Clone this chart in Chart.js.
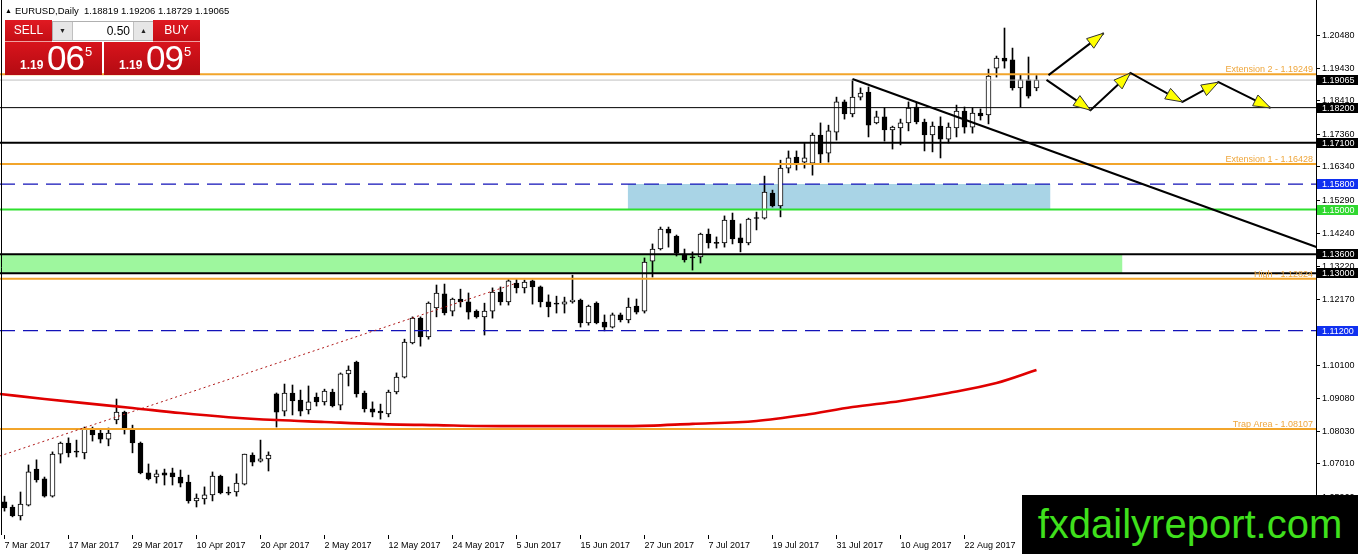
<!DOCTYPE html>
<html>
<head>
<meta charset="utf-8">
<script src="https://cdn.jsdelivr.net/npm/chart.js@4.4.1/dist/chart.umd.min.js"></script>
<style>
  html, body { margin: 0; padding: 0; background: #fff; }
  #wrap { position: relative; width: 1358px; height: 554px; overflow: hidden; font-family: "Liberation Sans", Arial, sans-serif; }
  #chart { position: absolute; left: 0; top: 0; }
  #title { position: absolute; left: 5px; top: 5px; font-size: 9.5px; color: #000; white-space: pre; }
  #title .tri { font-size: 7px; position: relative; top: -1px; margin-right: 3px; }
  .btn { position: absolute; top: 20px; width: 47px; height: 21px; background: linear-gradient(#e01a22, #c40e15); color: #fff; font-size: 12px; text-align: center; line-height: 20px; border-bottom: 1px solid #f0a0a0; }
  #sell { left: 5px; }
  #buy { left: 153px; }
  #lot { position: absolute; left: 52px; top: 21px; width: 100px; height: 18px; background: #fff; border: 1px solid #b0b0b0; }
  #lot .dn, #lot .up { position: absolute; top: 0; width: 19px; height: 18px; background: #e6e6e6; font-size: 7px; text-align: center; line-height: 18px; color: #222; }
  #lot .dn { left: 0; border-right: 1px solid #c0c0c0; }
  #lot .up { right: 0; border-left: 1px solid #c0c0c0; }
  #lot .val { position: absolute; left: 20px; width: 57px; text-align: right; font-size: 12px; line-height: 18px; color: #000; }
  .price { position: absolute; top: 42px; height: 33px; background: linear-gradient(#d8141c, #b40b12); color: #fff; }
  #sellPrice { left: 5px; width: 97px; }
  #buyPrice { left: 104px; width: 96px; }
  .price .small { position: absolute; left: 15px; top: 16px; font-size: 12px; font-weight: bold; }
  .price .big { position: absolute; left: 42px; top: -1px; font-size: 35px; line-height: 33px; letter-spacing: -1px; }
  .price .sup { position: absolute; left: 80px; top: 2px; font-size: 13px; }
  #mark { position: absolute; left: 1022px; top: 495px; width: 336px; height: 59px; background: #000; color: #3fe01c; font-size: 40px; line-height: 59px; text-align: center; }
</style>
</head>
<body>
<div id="wrap">
  <canvas id="chart" width="1358" height="554"></canvas>
  <div id="title"><span class="tri">&#9650;</span>EURUSD,Daily  1.18819 1.19206 1.18729 1.19065</div>
  <div class="btn" id="sell">SELL</div>
  <div id="lot"><div class="dn">&#9660;</div><div class="val">0.50</div><div class="up">&#9650;</div></div>
  <div class="btn" id="buy">BUY</div>
  <div class="price" id="sellPrice"><span class="small">1.19</span><span class="big">06</span><span class="sup">5</span></div>
  <div class="price" id="buyPrice"><span class="small">1.19</span><span class="big">09</span><span class="sup">5</span></div>
  <div id="mark">fxdailyreport.com</div>
</div>
<script>
// daily candles, 7 Mar 2017 .. 4 Sep 2017 (one per trading day)
var opens = [
  1.0582, 1.0566, 1.0538, 1.0572, 1.0685, 1.0654, 1.0600, 1.0732, 1.0767, 1.0739,
  1.0736, 1.0811, 1.0798, 1.0779, 1.0839, 1.0864, 1.0811, 1.0767, 1.0673, 1.0660,
  1.0673, 1.0673, 1.0660, 1.0644, 1.0585, 1.0591, 1.0604, 1.0663, 1.0610, 1.0613,
  1.0638, 1.0729, 1.0710, 1.0717, 1.0921, 1.0867, 1.0924, 1.0902, 1.0871, 1.0911,
  1.0896, 1.0927, 1.0886, 1.0984, 1.1021, 1.0924, 1.0874, 1.0867, 1.0858, 1.0927,
  1.0974, 1.1081, 1.1159, 1.1100, 1.1191, 1.1235, 1.1181, 1.1219, 1.1210, 1.1181,
  1.1163, 1.1181, 1.1241, 1.1210, 1.1269, 1.1254, 1.1276, 1.1257, 1.1210, 1.1206,
  1.1203, 1.1210, 1.1216, 1.1144, 1.1206, 1.1147, 1.1131, 1.1169, 1.1153, 1.1197,
  1.1181, 1.1338, 1.1376, 1.1439, 1.1417, 1.1360, 1.1351, 1.1351, 1.1423, 1.1395,
  1.1395, 1.1467, 1.1411, 1.1395, 1.1473, 1.1473, 1.1552, 1.1511, 1.1630, 1.1665,
  1.1649, 1.1646, 1.1734, 1.1677, 1.1743, 1.1838, 1.1800, 1.1853, 1.1869, 1.1772,
  1.1791, 1.1750, 1.1756, 1.1772, 1.1822, 1.1775, 1.1734, 1.1762, 1.1721, 1.1756,
  1.1809, 1.1759, 1.1803, 1.1797, 1.1944, 1.1976, 1.1970, 1.1882, 1.1907, 1.18819
];
var highs = [
  1.0600, 1.0572, 1.0613, 1.0698, 1.0714, 1.0660, 1.0739, 1.0770, 1.0783, 1.0776,
  1.0817, 1.0817, 1.0808, 1.0814, 1.0905, 1.0867, 1.0823, 1.0770, 1.0701, 1.0682,
  1.0685, 1.0688, 1.0682, 1.0666, 1.0607, 1.0629, 1.0676, 1.0666, 1.0629, 1.0670,
  1.0732, 1.0736, 1.0776, 1.0739, 1.0924, 1.0952, 1.0949, 1.0933, 1.0946, 1.0924,
  1.0936, 1.0936, 1.0987, 1.1009, 1.1024, 1.0930, 1.0896, 1.0889, 1.0933, 1.0987,
  1.1093, 1.1163, 1.1163, 1.1210, 1.1263, 1.1266, 1.1222, 1.1250, 1.1238, 1.1185,
  1.1206, 1.1254, 1.1257, 1.1282, 1.1282, 1.1279, 1.1279, 1.1260, 1.1232, 1.1228,
  1.1225, 1.1294, 1.1219, 1.1200, 1.1210, 1.1169, 1.1175, 1.1175, 1.1222, 1.1219,
  1.1348, 1.1392, 1.1445, 1.1445, 1.1420, 1.1376, 1.1367, 1.1426, 1.1439, 1.1414,
  1.1480, 1.1489, 1.1455, 1.1473, 1.1492, 1.1605, 1.1561, 1.1655, 1.1684, 1.1684,
  1.1709, 1.1740, 1.1772, 1.1765, 1.1853, 1.1844, 1.1907, 1.1882, 1.1885, 1.1809,
  1.1819, 1.1762, 1.1784, 1.1838, 1.1835, 1.1784, 1.1775, 1.1791, 1.1772, 1.1828,
  1.1822, 1.1819, 1.1816, 1.1941, 1.1982, 1.2070, 1.2007, 1.1922, 1.1979, 1.19206
];
var lows = [
  1.0553, 1.0535, 1.0525, 1.0569, 1.0644, 1.0597, 1.0597, 1.0704, 1.0723, 1.0723,
  1.0717, 1.0773, 1.0767, 1.0758, 1.0827, 1.0795, 1.0736, 1.0670, 1.0651, 1.0641,
  1.0635, 1.0635, 1.0629, 1.0578, 1.0566, 1.0575, 1.0585, 1.0607, 1.0604, 1.0600,
  1.0635, 1.0695, 1.0707, 1.0679, 1.0817, 1.0852, 1.0855, 1.0852, 1.0858, 1.0883,
  1.0886, 1.0880, 1.0871, 1.0946, 1.0911, 1.0864, 1.0849, 1.0842, 1.0849, 1.0921,
  1.0971, 1.1078, 1.1071, 1.1093, 1.1163, 1.1169, 1.1166, 1.1194, 1.1156, 1.1159,
  1.1106, 1.1159, 1.1200, 1.1200, 1.1238, 1.1238, 1.1203, 1.1194, 1.1163, 1.1175,
  1.1175, 1.1206, 1.1131, 1.1137, 1.1141, 1.1119, 1.1128, 1.1147, 1.1144, 1.1172,
  1.1175, 1.1288, 1.1373, 1.1382, 1.1354, 1.1335, 1.1310, 1.1332, 1.1379, 1.1379,
  1.1382, 1.1392, 1.1367, 1.1389, 1.1436, 1.1470, 1.1508, 1.1477, 1.1615, 1.1624,
  1.1630, 1.1608, 1.1646, 1.1649, 1.1718, 1.1784, 1.1791, 1.1844, 1.1728, 1.1769,
  1.1715, 1.1690, 1.1703, 1.1747, 1.1769, 1.1684, 1.1681, 1.1662, 1.1709, 1.1728,
  1.1740, 1.1740, 1.1781, 1.1769, 1.1916, 1.1944, 1.1875, 1.1822, 1.1850, 1.18729
];
var closes = [
  1.0563, 1.0538, 1.0575, 1.0676, 1.0651, 1.0600, 1.0732, 1.0767, 1.0736, 1.0738,
  1.0814, 1.0792, 1.0779, 1.0798, 1.0864, 1.0814, 1.0767, 1.0673, 1.0654, 1.0670,
  1.0666, 1.0660, 1.0641, 1.0585, 1.0594, 1.0604, 1.0663, 1.0610, 1.0609, 1.0641,
  1.0732, 1.0707, 1.0717, 1.0729, 1.0864, 1.0924, 1.0899, 1.0867, 1.0896, 1.0896,
  1.0930, 1.0883, 1.0984, 1.0996, 1.0921, 1.0874, 1.0864, 1.0861, 1.0927, 1.0974,
  1.1084, 1.1159, 1.1100, 1.1206, 1.1238, 1.1175, 1.1219, 1.1210, 1.1178, 1.1163,
  1.1181, 1.1241, 1.1210, 1.1276, 1.1254, 1.1272, 1.1257, 1.1210, 1.1194, 1.1203,
  1.1210, 1.1216, 1.1144, 1.1197, 1.1144, 1.1131, 1.1169, 1.1153, 1.1194, 1.1178,
  1.1335, 1.1376, 1.1439, 1.1426, 1.1363, 1.1342, 1.1348, 1.1423, 1.1395, 1.1394,
  1.1467, 1.1408, 1.1395, 1.1470, 1.1472, 1.1555, 1.1511, 1.1630, 1.1662, 1.1646,
  1.1662, 1.1734, 1.1674, 1.1747, 1.1838, 1.1800, 1.1853, 1.1866, 1.1765, 1.1791,
  1.1750, 1.1759, 1.1772, 1.1819, 1.1775, 1.1734, 1.1762, 1.1721, 1.1759, 1.1809,
  1.1759, 1.1803, 1.1794, 1.1919, 1.1976, 1.1966, 1.1882, 1.1907, 1.1856, 1.19065
];

// time axis labels (bar index -> date)
var tickBars = [0, 8, 16, 24, 32, 40, 48, 56, 64, 72, 80, 88, 96, 104, 112, 120];
var dateLabels = ["7 Mar 2017", "17 Mar 2017", "29 Mar 2017", "10 Apr 2017", "20 Apr 2017", "2 May 2017",
  "12 May 2017", "24 May 2017", "5 Jun 2017", "15 Jun 2017", "27 Jun 2017", "7 Jul 2017",
  "19 Jul 2017", "31 Jul 2017", "10 Aug 2017", "22 Aug 2017"];

// price axis labels
var priceTicks = [1.20480, 1.19430, 1.18410, 1.17360, 1.16340, 1.15290, 1.14240, 1.13220,
  1.12170, 1.11120, 1.10100, 1.09080, 1.08030, 1.07010, 1.05960];

// moving average, read at sample bars
var maBars = [-0.6, 5, 10, 16, 22, 28, 34, 40, 46, 54, 62, 70, 78, 86, 94, 100, 106, 112, 118, 124, 129];
var maPrices = [1.0921, 1.0905, 1.0892, 1.0877, 1.0861, 1.0848, 1.0839, 1.0833, 1.0827, 1.0823, 1.0820,
  1.0820, 1.0820, 1.0827, 1.0836, 1.0855, 1.0880, 1.0899, 1.0924, 1.0955, 1.0996];

// trend lines
var dotBars = [-0.6, 64];
var dotPrices = [1.0726, 1.1269];
var trendBars = [106, 164];
var trendPrices = [1.1910, 1.1382];

// horizontal levels
var bidPrice = 1.19065;
var orangeLevels = [1.19249, 1.16428, 1.12824, 1.08107];
var orangeNames = ["Extension 2", "Extension 1", "High", "Trap Area"];
var thinBlackLevels = [1.18200];
var thickBlackLevels = [1.17100, 1.13600, 1.13000];
var blueLevels = [1.15800, 1.11200];
var greenLevels = [1.15000];

// zones
var blueZoneBars = [77.9, 130.75];
var blueZonePrices = [1.1500, 1.1580];
var greenZoneBars = [-0.6, 139.75];
var greenZonePrices = [1.1300, 1.1360];

// forecast arrows
var upArrowBars = [130.5, 137.4];
var upArrowPrices = [1.1922, 1.2054];
var zigBars = [130.25, 135.75, 140.75, 147.25, 151.75, 158.25];
var zigPrices = [1.1907, 1.1812, 1.1929, 1.1838, 1.1900, 1.1819];

var X_MIN = -0.5625, X_MAX = 163.9375;
var Y_MIN = 1.0478, Y_MAX = 1.2158;

Chart.defaults.font.family = '"Liberation Sans", Arial, sans-serif';
Chart.defaults.font.size = 9;
Chart.defaults.color = "#000";

function pts(bars, prices) {
  return bars.map(function (b, k) { return { x: b, y: prices[k] }; });
}

function hLine(v, color, width, dash) {
  return {
    type: "line", data: pts([X_MIN, X_MAX], [v, v]), borderColor: color, borderWidth: width,
    borderDash: dash || [], pointRadius: 0, order: 5, clip: 0
  };
}

var datasets = [];

datasets.push({
  type: "line", data: pts(blueZoneBars, [blueZonePrices[1], blueZonePrices[1]]), borderWidth: 0,
  backgroundColor: "#a9d4e6", fill: { value: blueZonePrices[0] }, pointRadius: 0, order: 30, clip: 0
});
datasets.push({
  type: "line", data: pts(greenZoneBars, [greenZonePrices[1], greenZonePrices[1]]), borderWidth: 0,
  backgroundColor: "#9ef79e", fill: { value: greenZonePrices[0] }, pointRadius: 0, order: 30, clip: 0
});

datasets.push({
  type: "bar", data: lows.map(function (l, i) { return { x: i, y: [l, highs[i]] }; }),
  backgroundColor: "#000", borderWidth: 0, barThickness: 1, grouped: false, order: 12
});
datasets.push({
  type: "bar", data: opens.map(function (o, i) { return { x: i, y: [o, closes[i]] }; }),
  backgroundColor: opens.map(function (o, i) { return closes[i] > o ? "#fff" : "#000"; }),
  borderColor: "#000", borderWidth: 1, borderSkipped: false, barThickness: 5, minBarLength: 1,
  grouped: false, order: 11
});

datasets.push(hLine(bidPrice, "#c0c0c0", 1));
orangeLevels.forEach(function (v) { datasets.push(hLine(v, "#f2a52b", 2)); });
thinBlackLevels.forEach(function (v) { datasets.push(hLine(v, "#000", 1)); });
thickBlackLevels.forEach(function (v) { datasets.push(hLine(v, "#000", 2)); });
blueLevels.forEach(function (v) { datasets.push(hLine(v, "#1212b8", 1.3, [15, 8])); });
greenLevels.forEach(function (v) { datasets.push(hLine(v, "#2ee02e", 2)); });

datasets.push({
  type: "line", data: pts(maBars, maPrices), borderColor: "#e00000", borderWidth: 2.6,
  cubicInterpolationMode: "monotone", pointRadius: 0, order: 4, clip: 0
});
datasets.push({
  type: "line", data: pts(dotBars, dotPrices), borderColor: "#b01818", borderWidth: 1,
  borderDash: [2, 3], pointRadius: 0, order: 4, clip: 0
});
datasets.push({
  type: "line", data: pts(trendBars, trendPrices), borderColor: "#000", borderWidth: 2,
  pointRadius: 0, order: 3, clip: 0
});

function arrowHead(ctx, x1, y1, x2, y2) {
  var dx = x2 - x1, dy = y2 - y1, len = Math.sqrt(dx * dx + dy * dy);
  var ux = dx / len, uy = dy / len, L = 17, W = 6;
  var bx = x2 - ux * L, by = y2 - uy * L;
  ctx.beginPath();
  ctx.moveTo(x2, y2);
  ctx.lineTo(bx - uy * W, by + ux * W);
  ctx.lineTo(bx + uy * W, by - ux * W);
  ctx.closePath();
  ctx.fillStyle = "#ffff00";
  ctx.fill();
  ctx.lineWidth = 1;
  ctx.strokeStyle = "#333";
  ctx.stroke();
}

function drawArrows(ctx, x, y, bars, prices) {
  var p = bars.map(function (b, k) { return [x.getPixelForValue(b), y.getPixelForValue(prices[k])]; });
  ctx.strokeStyle = "#000";
  ctx.lineWidth = 2;
  ctx.beginPath();
  p.forEach(function (q, k) { if (k === 0) ctx.moveTo(q[0], q[1]); else ctx.lineTo(q[0], q[1]); });
  ctx.stroke();
  for (var k = 1; k < p.length; k++) arrowHead(ctx, p[k - 1][0], p[k - 1][1], p[k][0], p[k][1]);
}

var drawings = {
  id: "drawings",
  beforeDraw: function (chart) {
    var ctx = chart.ctx;
    ctx.save();
    ctx.fillStyle = "#fff";
    ctx.fillRect(0, 0, chart.width, chart.height);
    ctx.restore();
  },
  afterDatasetsDraw: function (chart) {
    var ctx = chart.ctx, a = chart.chartArea, x = chart.scales.x, y = chart.scales.y;
    ctx.save();
    ctx.beginPath();
    ctx.rect(a.left, a.top, a.right - a.left, a.bottom - a.top);
    ctx.clip();

    ctx.strokeStyle = "#000";
    ctx.lineWidth = 1;
    ctx.beginPath();
    ctx.moveTo(a.left + 1.5, a.top);
    ctx.lineTo(a.left + 1.5, a.bottom);
    ctx.stroke();

    ctx.font = '9px "Liberation Sans", Arial, sans-serif';
    ctx.fillStyle = "#eea63c";
    ctx.textAlign = "right";
    ctx.textBaseline = "alphabetic";
    orangeLevels.forEach(function (v, k) {
      ctx.fillText(orangeNames[k] + " - " + v.toFixed(5), a.right - 3, y.getPixelForValue(v) - 2);
    });

    drawArrows(ctx, x, y, upArrowBars, upArrowPrices);
    drawArrows(ctx, x, y, zigBars, zigPrices);
    ctx.restore();
  },
  afterDraw: function (chart) {
    var ctx = chart.ctx, y = chart.scales.y;
    var tags = [bidPrice].concat(thinBlackLevels, thickBlackLevels, blueLevels, greenLevels);
    ctx.save();
    ctx.font = '9px "Liberation Sans", Arial, sans-serif';
    ctx.textAlign = "left";
    ctx.textBaseline = "middle";
    tags.forEach(function (v) {
      var py = Math.round(y.getPixelForValue(v));
      var bg = "#000";
      if (blueLevels.indexOf(v) >= 0) bg = "#1030f0";
      if (greenLevels.indexOf(v) >= 0) bg = "#30d830";
      ctx.fillStyle = bg;
      ctx.fillRect(y.left + 1, py - 5, chart.width - y.left - 1, 10);
      ctx.fillStyle = "#fff";
      ctx.fillText(v.toFixed(5), y.left + 6, py + 0.5);
    });
    ctx.restore();
  }
};

new Chart(document.getElementById("chart"), {
  type: "bar",
  data: { datasets: datasets },
  plugins: [drawings],
  options: {
    responsive: false,
    animation: false,
    devicePixelRatio: 1,
    events: [],
    layout: { padding: 0 },
    plugins: { legend: { display: false }, tooltip: { enabled: false } },
    scales: {
      x: {
        type: "linear", min: X_MIN, max: X_MAX, offset: false,
        grid: { display: true, drawOnChartArea: false, drawTicks: true, tickLength: 4, color: "#000", offset: false },
        border: { display: false },
        ticks: {
          autoSkip: false, maxRotation: 0, minRotation: 0, align: "start", padding: 1,
          callback: function (v) { var k = tickBars.indexOf(v); return k >= 0 ? dateLabels[k] : ""; }
        },
        afterBuildTicks: function (s) { s.ticks = tickBars.map(function (v) { return { value: v }; }); },
        afterFit: function (s) { s.height = 19; s.paddingLeft = 0; s.paddingRight = 0; }
      },
      y: {
        type: "linear", position: "right", min: Y_MIN, max: Y_MAX,
        grid: { display: true, drawOnChartArea: false, drawTicks: true, tickLength: 4, color: "#000" },
        border: { display: true, color: "#000", width: 1 },
        ticks: { padding: 2, callback: function (v) { return v.toFixed(5); } },
        afterBuildTicks: function (s) { s.ticks = priceTicks.map(function (v) { return { value: v }; }); },
        afterFit: function (s) { s.width = 42; s.paddingTop = 0; s.paddingBottom = 0; }
      }
    }
  }
});
</script>
</body>
</html>
